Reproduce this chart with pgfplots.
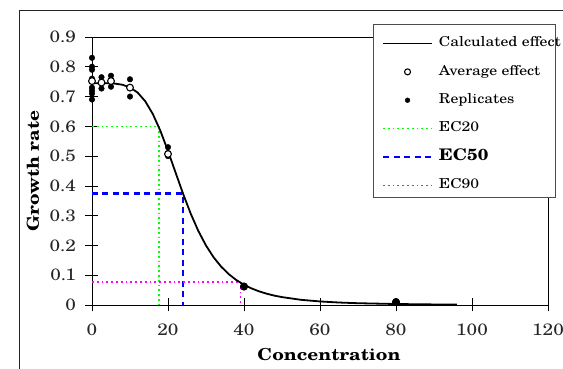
\documentclass[border=0pt]{standalone}
\usepackage{fontspec}
\setmainfont{TeX Gyre Schola}[FakeStretch=1.15]
\usepackage{pgfplots}
\pgfplotsset{compat=1.18}
\definecolor{ecgreen}{RGB}{0,255,0}
\definecolor{ecblue}{RGB}{0,0,255}
\definecolor{ecmag}{RGB}{255,0,255}
\pgfplotstableread{
x y
0 0.745
2 0.745
4 0.7448
6 0.7435
8 0.7397
10 0.7308
12 0.7135
14 0.6844
16 0.6416
18 0.5848
20 0.517
22 0.4445
24 0.3725
26 0.3061
28 0.2482
30 0.1998
32 0.1602
34 0.1286
36 0.1035
38 0.0836
40 0.0680
42 0.0556
44 0.0457
46 0.0378
48 0.0315
50 0.0265
55 0.0174
60 0.0119
65 0.0083
70 0.0060
80 0.0033
90 0.0019
96 0.00145
}\curvedata
\pgfplotstableread{
x y
0 0.83
0 0.80
0 0.79
0 0.76
0 0.75
0 0.73
0 0.72
0 0.71
0 0.69
2.5 0.765
2.5 0.727
5 0.77
5 0.733
10 0.758
10 0.70
20 0.53
20 0.51
20 0.50
}\repdata
\pgfplotstableread{
x y
40 0.062
80 0.010
}\repdatab
\pgfplotstableread{
x y
0 0.752
2.5 0.747
5 0.752
10 0.73
20 0.507
40 0.062
80 0.010
}\avgdata
\begin{document}
\begin{tikzpicture}
\begin{axis}[
  scale only axis, width=456pt, height=268pt,
  at={(0pt,0pt)}, anchor=south west,
  xmin=0, xmax=120, ymin=0, ymax=0.9,
  clip=false,
  xtick={0,20,40,60,80,100,120},
  ytick={0,0.1,0.2,0.3,0.4,0.5,0.6,0.7,0.8,0.9},
  tick align=center, major tick length=13pt,
  tick style={black, line width=0.6pt},
  axis line style={black, line width=0.7pt},
  xtick pos=left, ytick pos=left,
  /pgf/number format/assume math mode=true,
  /pgf/number format/fixed, /pgf/number format/precision=1,
  tick label style={font=\fontsize{16.5}{19}\selectfont, black!85},
  xticklabel style={yshift=-9pt},
  yticklabel style={xshift=-6pt},
  every axis x label/.style={at={(rel axis cs:0.5,0)}, anchor=center, yshift=-50pt, xshift=9pt},
  every axis y label/.style={at={(rel axis cs:0,0.5)}, anchor=center, xshift=-59pt, rotate=90},
  label style={font=\fontsize{16.5}{18}\selectfont\bfseries},
  xlabel={Concentration},
  ylabel={Growth rate},
  legend style={draw=none, fill=none, at={(rel axis cs:0.6352,1.0)}, anchor=north west,
    inner sep=0pt, row sep=15.9pt, column sep=5.7pt,
    font=\fontsize{13.7}{15}\selectfont,
    nodes={inner sep=0pt, text height=9.5pt, text depth=3pt, anchor=west}},
  legend cell align=left,
  legend image code/.code={\draw[mark repeat=2,mark phase=2,#1] plot coordinates {(0pt,0pt)(24.5pt,0pt)(49pt,0pt)};},
]
% EC lines
\addplot[ecgreen, line width=1.6pt, dash pattern=on 1.8pt off 3pt, forget plot] coordinates {(0,0.6) (17.7,0.6) (17.7,0)};
\addplot[ecblue, line width=2.4pt, dash pattern=on 6pt off 4.5pt, forget plot] coordinates {(0,0.375) (24,0.375) (24,0)};
\addplot[ecmag, line width=1.6pt, dash pattern=on 1.8pt off 3pt, forget plot] coordinates {(0,0.078) (39.1,0.078) (39.1,0)};
% curve
\addplot[black, line width=1.8pt, forget plot] table {\curvedata};
% replicates
\addplot[only marks, mark=*, mark size=2.8pt, black, forget plot] table {\repdata};
% averages
\addplot[only marks, mark=*, mark size=3.4pt, mark options={fill=white, draw=black, line width=1.1pt}, forget plot] table {\avgdata};
% single replicates drawn over their averages
\addplot[only marks, mark=*, mark size=3.6pt, black, forget plot] table {\repdatab};
% legend frame
\draw[black!70, line width=0.7pt, fill=white] (rel axis cs:0.6162,1.0485) rectangle (rel axis cs:1.0154,0.403);
\addlegendimage{black, line width=1.8pt}
\addlegendentry{Calculated effect}
\addlegendimage{only marks, mark=*, mark size=3pt, mark options={fill=white, draw=black, line width=1.1pt}}
\addlegendentry{Average effect}
\addlegendimage{only marks, mark=*, mark size=2.4pt, black}
\addlegendentry{Replicates}
\addlegendimage{ecgreen, line width=1.6pt, dash pattern=on 1.8pt off 3pt}
\addlegendentry{EC20}
\addlegendimage{ecblue, line width=2.4pt, dash pattern=on 6pt off 4.5pt}
\addlegendentry{\fontsize{16}{17}\selectfont\bfseries EC50}
\addlegendimage{ecmag, line width=1.6pt, dash pattern=on 1.8pt off 3pt}
\addlegendentry{EC90}
\end{axis}
\draw[black!85, line width=0.7pt] (-73pt,-64pt) -- (-73pt,295pt) -- (471pt,295pt);
\pgfresetboundingbox
\path[use as bounding box] (-92pt,-64pt) rectangle (471pt,305pt);
\end{tikzpicture}
\end{document}
